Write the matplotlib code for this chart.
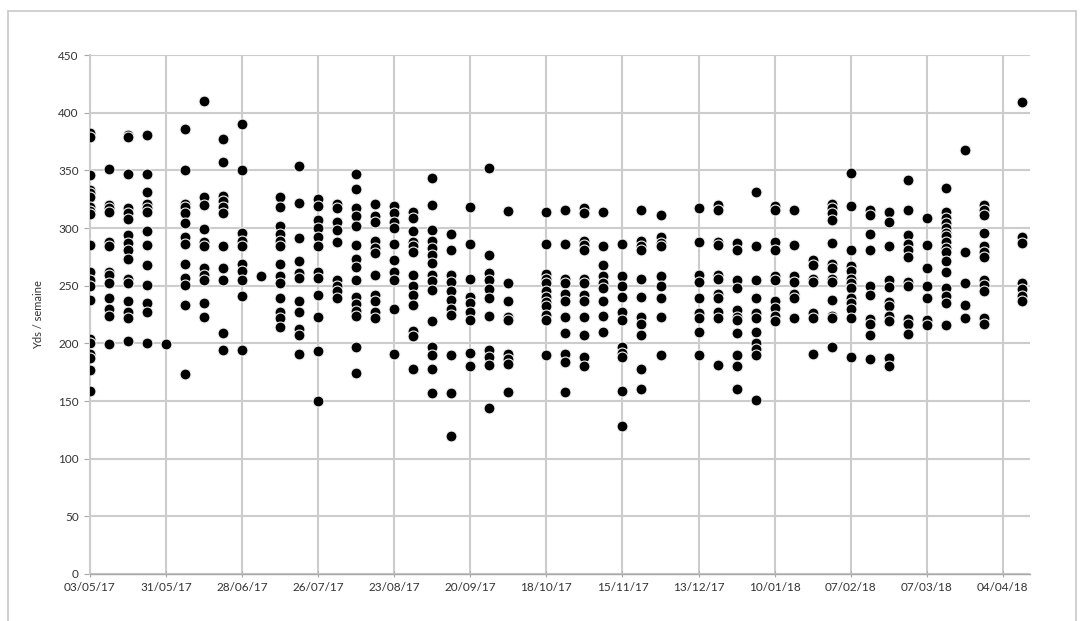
import datetime as dt
import matplotlib
matplotlib.use("Agg")
import matplotlib.pyplot as plt
import matplotlib.dates as mdates
from matplotlib.patches import Rectangle

plt.rcParams['font.family'] = ['Lato', 'DejaVu Sans']

# Yds / semaine, one list per week (week start date in the name)
w_03_05_17 = [382, 379, 346, 333, 330, 327, 318, 315, 312, 285, 262, 255, 250, 238, 204, 200, 191, 187, 177, 159]
w_10_05_17 = [351, 320, 317, 314, 288, 284, 262, 259, 252, 239, 230, 224, 199]
w_17_05_17 = [381, 379, 347, 317, 313, 308, 294, 287, 281, 273, 256, 252, 237, 227, 222, 202]
w_24_05_17 = [381, 347, 331, 321, 317, 314, 297, 285, 268, 251, 235, 227, 200]
w_31_05_17 = [199]
w_07_06_17 = [386, 350, 321, 318, 313, 304, 292, 286, 269, 257, 251, 233, 173]
w_14_06_17 = [410, 327, 320, 299, 288, 284, 265, 259, 255, 235, 223]
w_21_06_17 = [377, 357, 328, 323, 318, 313, 284, 265, 255, 209, 194]
w_28_06_17 = [390, 350, 296, 289, 284, 269, 263, 255, 241, 194]
w_05_07_17 = [258]
w_12_07_17 = [327, 318, 302, 295, 289, 284, 269, 258, 252, 239, 227, 222, 214]
w_19_07_17 = [354, 322, 291, 271, 261, 257, 237, 227, 212, 207, 191]
w_26_07_17 = [325, 319, 307, 300, 292, 284, 262, 257, 242, 223, 193, 150]
w_02_08_17 = [321, 317, 305, 298, 288, 255, 250, 245, 239]
w_09_08_17 = [347, 334, 317, 310, 302, 285, 273, 266, 255, 240, 234, 228, 224, 197, 174]
w_16_08_17 = [321, 310, 305, 289, 283, 278, 259, 242, 237, 227, 222]
w_23_08_17 = [319, 313, 305, 300, 286, 272, 262, 255, 230, 191]
w_30_08_17 = [314, 309, 297, 288, 284, 279, 259, 250, 242, 233, 211, 206, 178]
w_06_09_17 = [343, 320, 298, 289, 283, 277, 270, 259, 254, 246, 219, 197, 190, 178, 157]
w_13_09_17 = [295, 281, 259, 253, 245, 238, 230, 225, 190, 157, 120]
w_20_09_17 = [318, 286, 256, 240, 235, 227, 220, 192, 180]
w_27_09_17 = [352, 277, 261, 255, 247, 239, 224, 194, 188, 181, 144]
w_04_10_17 = [315, 252, 237, 223, 220, 191, 186, 182, 158]
w_18_10_17 = [314, 286, 260, 256, 252, 245, 240, 236, 232, 225, 220, 190]
w_25_10_17 = [316, 286, 256, 252, 243, 237, 223, 209, 191, 184, 158]
w_01_11_17 = [317, 313, 289, 285, 281, 256, 252, 242, 237, 223, 207, 188, 180]
w_08_11_17 = [314, 284, 268, 258, 252, 248, 237, 224, 210]
w_15_11_17 = [286, 258, 250, 240, 227, 220, 197, 192, 188, 159, 128]
w_22_11_17 = [316, 289, 284, 281, 256, 240, 223, 217, 207, 178, 160]
w_29_11_17 = [311, 292, 287, 284, 258, 250, 239, 223, 190]
w_13_12_17 = [317, 288, 259, 253, 239, 226, 222, 210, 190]
w_20_12_17 = [320, 316, 288, 285, 259, 256, 243, 239, 227, 222, 181]
w_27_12_17 = [287, 281, 255, 248, 229, 223, 220, 209, 190, 180, 160]
w_03_01_18 = [331, 284, 255, 239, 226, 222, 210, 200, 195, 190, 151]
w_10_01_18 = [319, 316, 288, 281, 258, 255, 237, 231, 224, 219]
w_17_01_18 = [316, 285, 258, 253, 243, 239, 222]
w_24_01_18 = [272, 268, 256, 253, 226, 222, 191]
w_31_01_18 = [321, 317, 313, 307, 287, 269, 265, 256, 253, 238, 224, 222, 197]
w_07_02_18 = [348, 319, 281, 267, 263, 256, 252, 248, 239, 235, 230, 222, 188]
w_14_02_18 = [316, 311, 295, 281, 250, 242, 221, 217, 207, 186]
w_21_02_18 = [314, 305, 284, 255, 249, 236, 232, 224, 219, 187, 180]
w_28_02_18 = [342, 316, 294, 286, 281, 275, 253, 250, 221, 217, 208]
w_07_03_18 = [309, 285, 265, 250, 239, 220, 216]
w_14_03_18 = [335, 314, 309, 304, 300, 296, 293, 288, 283, 279, 271, 262, 248, 241, 235, 216]
w_21_03_18 = [368, 279, 252, 233, 222]
w_28_03_18 = [320, 316, 311, 296, 284, 279, 275, 255, 251, 245, 222, 217]
w_11_04_18 = [409, 292, 287, 252, 247, 241, 237]

weeks = {
    "03/05/17": w_03_05_17, "10/05/17": w_10_05_17, "17/05/17": w_17_05_17,
    "24/05/17": w_24_05_17, "31/05/17": w_31_05_17, "07/06/17": w_07_06_17,
    "14/06/17": w_14_06_17, "21/06/17": w_21_06_17, "28/06/17": w_28_06_17,
    "05/07/17": w_05_07_17, "12/07/17": w_12_07_17, "19/07/17": w_19_07_17,
    "26/07/17": w_26_07_17, "02/08/17": w_02_08_17, "09/08/17": w_09_08_17,
    "16/08/17": w_16_08_17, "23/08/17": w_23_08_17, "30/08/17": w_30_08_17,
    "06/09/17": w_06_09_17, "13/09/17": w_13_09_17, "20/09/17": w_20_09_17,
    "27/09/17": w_27_09_17, "04/10/17": w_04_10_17, "18/10/17": w_18_10_17,
    "25/10/17": w_25_10_17, "01/11/17": w_01_11_17, "08/11/17": w_08_11_17,
    "15/11/17": w_15_11_17, "22/11/17": w_22_11_17, "29/11/17": w_29_11_17,
    "13/12/17": w_13_12_17, "20/12/17": w_20_12_17, "27/12/17": w_27_12_17,
    "03/01/18": w_03_01_18, "10/01/18": w_10_01_18, "17/01/18": w_17_01_18,
    "24/01/18": w_24_01_18, "31/01/18": w_31_01_18, "07/02/18": w_07_02_18,
    "14/02/18": w_14_02_18, "21/02/18": w_21_02_18, "28/02/18": w_28_02_18,
    "07/03/18": w_07_03_18, "14/03/18": w_14_03_18, "21/03/18": w_21_03_18,
    "28/03/18": w_28_03_18, "11/04/18": w_11_04_18,
}

tick_labels = ["03/05/17", "31/05/17", "28/06/17", "26/07/17", "23/08/17", "20/09/17",
               "18/10/17", "15/11/17", "13/12/17", "10/01/18", "07/02/18", "07/03/18", "04/04/18"]

xs, ys = [], []
for d, vals in weeks.items():
    day = dt.datetime.strptime(d, "%d/%m/%y")
    xs += [day] * len(vals)
    ys += vals

fig = plt.figure(figsize=(10.8, 6.21), dpi=100)
ax = fig.add_axes([0.0833, 0.0757, 0.8704, 0.8357])

grid_c = '#cccccc'
ax.scatter(xs, ys, s=62, c='black', edgecolors='#f2f2f2', linewidths=0.8, zorder=3)

ax.set_ylim(0, 450)
ax.set_yticks(range(0, 451, 50))
ax.set_xlim(dt.datetime(2017, 5, 3), dt.datetime(2018, 4, 14))
ax.set_xticks([dt.datetime.strptime(t, "%d/%m/%y") for t in tick_labels])
ax.xaxis.set_major_formatter(mdates.DateFormatter('%d/%m/%y'))

ax.grid(True, color=grid_c, linewidth=1.5, zorder=0)
ax.set_axisbelow(True)
for side in ['top', 'right']:
    ax.spines[side].set_visible(False)
ax.spines['left'].set_color(grid_c)
ax.spines['left'].set_linewidth(1.5)
ax.spines['bottom'].set_color('#a8a8a8')
ax.spines['bottom'].set_linewidth(1.0)
ax.tick_params(axis='x', colors='#a8a8a8', labelcolor='#333333', length=4, direction='inout', labelsize=8.5, pad=4)
ax.tick_params(axis='y', colors='#a8a8a8', labelcolor='#333333', length=4, direction='out', labelsize=8.5, pad=4)
ax.set_ylabel("Yds / semaine", fontsize=8, color='#333333', labelpad=10)

fig.patches.append(Rectangle((8 / 1080, -0.05), 1068 / 1080, 1.05 - 11 / 621,
                             transform=fig.transFigure, fill=False,
                             edgecolor='#c8c8c8', linewidth=1.2))

fig.savefig("out.png", dpi=100)
